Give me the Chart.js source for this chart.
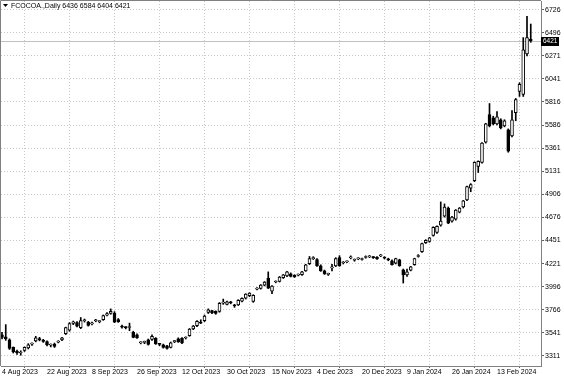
<!DOCTYPE html>
<html>
<head>
<meta charset="utf-8">
<script src="https://cdn.jsdelivr.net/npm/chart.js@4.4.1/dist/chart.umd.min.js"></script>
<style>
  html, body { margin: 0; padding: 0; background: #fff; }
  #wrap { position: relative; width: 564px; height: 376px; }
</style>
</head>
<body>
<div id="wrap"><canvas id="chart" width="564" height="376"></canvas></div>
<script>
// Header line of the chart window
const symbolTitle = 'FCOCOA.,Daily 6436 6584 6404 6421';

// Date labels on the time axis and the bar they sit on
const dateLabels = ['4 Aug 2023', '22 Aug 2023', '8 Sep 2023', '26 Sep 2023', '12 Oct 2023', '30 Oct 2023',
  '15 Nov 2023', '4 Dec 2023', '20 Dec 2023', '9 Jan 2024', '26 Jan 2024', '13 Feb 2024'];
const dateLabelBars = [0, 12, 24, 36, 48, 60, 72, 84, 96, 108, 120, 132];

// Price scale labels (bottom to top)
const priceLabels = ['3311', '3541', '3766', '3996', '4221', '4451', '4676', '4906',
  '5131', '5361', '5586', '5816', '6041', '6271', '6496', '6726'];

// Daily OHLC, one value per bar
const opens = [
  3520, 3500, 3470, 3395, 3360, 3340, 3365, 3390, 3428, 3460,
  3482, 3465, 3452, 3418, 3428, 3448, 3470, 3530, 3565, 3632,
  3640, 3590, 3658, 3645, 3628, 3658, 3650, 3670, 3712, 3730,
  3735, 3670, 3602, 3592, 3592, 3545, 3520, 3440, 3445, 3470,
  3475, 3485, 3426, 3420, 3410, 3395, 3452, 3480, 3485, 3488,
  3510, 3578, 3610, 3640, 3660, 3740, 3758, 3750, 3750, 3832,
  3820, 3838, 3808, 3815, 3852, 3880, 3905, 3850, 3970, 3978,
  4010, 4080, 3950, 4040, 4045, 4082, 4100, 4122, 4105, 4108,
  4112, 4150, 4220, 4270, 4262, 4200, 4150, 4115, 4180, 4200,
  4282, 4228, 4238, 4278, 4255, 4268, 4262, 4282, 4288, 4282,
  4285, 4298, 4278, 4268, 4250, 4225, 4258, 4160, 4110, 4158,
  4210, 4292, 4340, 4428, 4440, 4500, 4530, 4600, 4690, 4770,
  4640, 4660, 4730, 4780, 4850, 4965, 5040, 5180, 5220, 5420,
  5690, 5660, 5600, 5640, 5580, 5540, 5480, 5710, 5920, 5890,
  6290, 6436
];
const highs = [
  3545, 3620, 3480, 3400, 3370, 3362, 3400, 3432, 3440, 3505,
  3495, 3475, 3460, 3430, 3438, 3462, 3495, 3595, 3640, 3655,
  3650, 3690, 3675, 3652, 3645, 3672, 3660, 3715, 3738, 3775,
  3748, 3680, 3615, 3600, 3635, 3555, 3530, 3452, 3458, 3478,
  3520, 3492, 3436, 3428, 3415, 3448, 3465, 3490, 3492, 3500,
  3582, 3612, 3660, 3668, 3715, 3775, 3762, 3756, 3838, 3872,
  3852, 3850, 3820, 3866, 3885, 3925, 3935, 3915, 3985, 4015,
  4045, 4140, 4005, 4052, 4095, 4115, 4145, 4130, 4112, 4120,
  4145, 4215, 4292, 4290, 4270, 4210, 4158, 4128, 4215, 4280,
  4300, 4242, 4250, 4298, 4268, 4280, 4275, 4298, 4302, 4292,
  4292, 4312, 4290, 4275, 4258, 4275, 4265, 4168, 4168, 4195,
  4275, 4310, 4425, 4458, 4480, 4585, 4595, 4830, 4810, 4780,
  4688, 4755, 4775, 4845, 4985, 5010, 5225, 5235, 5415, 5605,
  5800, 5675, 5720, 5650, 5640, 5550, 5730, 5850, 6005, 6450,
  6660, 6584
];
const lows = [
  3480, 3465, 3375, 3340, 3325, 3318, 3355, 3380, 3415, 3450,
  3460, 3445, 3410, 3400, 3395, 3440, 3462, 3522, 3555, 3620,
  3598, 3580, 3645, 3605, 3618, 3648, 3638, 3662, 3705, 3722,
  3640, 3642, 3585, 3578, 3560, 3490, 3485, 3430, 3432, 3418,
  3465, 3425, 3412, 3388, 3378, 3390, 3442, 3445, 3432, 3478,
  3505, 3570, 3600, 3630, 3650, 3730, 3728, 3722, 3742, 3820,
  3815, 3825, 3790, 3808, 3845, 3872, 3895, 3840, 3962, 3970,
  4002, 3975, 3925, 4032, 4040, 4075, 4092, 4090, 4085, 4100,
  4105, 4145, 4212, 4262, 4195, 4145, 4115, 4105, 4150, 4192,
  4195, 4218, 4230, 4268, 4245, 4260, 4255, 4275, 4280, 4272,
  4262, 4290, 4268, 4250, 4205, 4218, 4195, 4030, 4095, 4150,
  4205, 4285, 4332, 4420, 4432, 4492, 4520, 4590, 4680, 4615,
  4630, 4650, 4722, 4770, 4842, 4930, 5030, 5120, 5212, 5410,
  5570, 5590, 5590, 5550, 5570, 5320, 5470, 5630, 5870, 5870,
  6270, 6404
];
const closes = [
  3495, 3480, 3385, 3350, 3340, 3345, 3395, 3420, 3432, 3490,
  3470, 3455, 3420, 3420, 3405, 3458, 3490, 3590, 3630, 3648,
  3605, 3660, 3665, 3612, 3638, 3662, 3652, 3710, 3730, 3752,
  3645, 3650, 3595, 3590, 3598, 3495, 3490, 3442, 3446, 3425,
  3505, 3430, 3425, 3395, 3385, 3440, 3456, 3450, 3440, 3492,
  3575, 3605, 3652, 3635, 3705, 3766, 3735, 3730, 3830, 3840,
  3845, 3835, 3805, 3860, 3880, 3920, 3930, 3910, 3978, 4010,
  4040, 3980, 4000, 4045, 4090, 4110, 4140, 4095, 4090, 4112,
  4140, 4210, 4270, 4280, 4200, 4150, 4120, 4118, 4190, 4270,
  4200, 4232, 4242, 4282, 4258, 4272, 4266, 4288, 4292, 4280,
  4268, 4302, 4275, 4258, 4212, 4270, 4200, 4110, 4140, 4190,
  4270, 4302, 4420, 4450, 4475, 4580, 4590, 4640, 4780, 4620,
  4680, 4750, 4770, 4840, 4980, 5000, 5220, 5230, 5410, 5600,
  5580, 5600, 5670, 5560, 5630, 5330, 5640, 5840, 5990, 6330,
  6450, 6421
];

const FONT = 'Liberation Sans';
const lastClose = closes[closes.length - 1];

// bodies as floating bars, wicks as thin floating bars
const bodyData = opens.map((o, i) => ({ x: i, y: [Math.min(o, closes[i]), Math.max(o, closes[i])] }));
const wickData = lows.map((l, i) => ({ x: i, y: [l, highs[i]] }));
const bodyFill = opens.map((o, i) => closes[i] >= o ? '#ffffff' : '#000000');

// price ticks spread evenly from the lowest to the highest label
const pLo = Number(priceLabels[0]);
const pHi = Number(priceLabels[priceLabels.length - 1]);
const pStep = (pHi - pLo) / (priceLabels.length - 1);

// no extra room for labels hanging over the plot edges
function noEdgePad(s) {
  s.paddingTop = 0;
  s.paddingBottom = 0;
  s.paddingLeft = 0;
  s.paddingRight = 0;
}

// draws the frame, the last price line + tag and the header text
const terminalBits = {
  id: 'terminalBits',
  beforeDatasetsDraw(chart) {
    const { ctx, chartArea: a, scales: { y } } = chart;
    const py = Math.round(y.getPixelForValue(lastClose)) + 0.5;
    ctx.save();
    ctx.strokeStyle = '#c0c0c0';
    ctx.lineWidth = 1;
    ctx.beginPath();
    ctx.moveTo(a.left, py);
    ctx.lineTo(a.right, py);
    ctx.stroke();
    ctx.restore();
  },
  afterDraw(chart) {
    const { ctx, chartArea: a, scales: { y } } = chart;
    ctx.save();
    // frame
    ctx.strokeStyle = '#808080';
    ctx.lineWidth = 1;
    ctx.beginPath();
    ctx.moveTo(a.left - 0.5, a.bottom);
    ctx.lineTo(a.left - 0.5, a.top - 0.5);
    ctx.lineTo(a.right, a.top - 0.5);
    ctx.stroke();

    // last price tag
    const py = Math.round(y.getPixelForValue(lastClose));
    ctx.fillStyle = '#000';
    ctx.fillRect(a.right, py - 4, 18, 9);
    ctx.fillStyle = '#fff';
    ctx.font = '6.5px "' + FONT + '"';
    ctx.textBaseline = 'middle';
    ctx.textAlign = 'left';
    ctx.fillText(String(lastClose), a.right + 2, py + 0.5);

    // header
    ctx.fillStyle = '#000';
    ctx.beginPath();
    ctx.moveTo(a.left + 2, a.top + 3);
    ctx.lineTo(a.left + 7, a.top + 3);
    ctx.lineTo(a.left + 4.5, a.top + 6);
    ctx.closePath();
    ctx.fill();
    ctx.font = '7px "' + FONT + '"';
    ctx.fillText(symbolTitle, a.left + 10, a.top + 5);
    ctx.restore();
  }
};

const ctx = document.getElementById('chart').getContext('2d');
new Chart(ctx, {
  type: 'bar',
  data: {
    datasets: [
      {
        data: wickData,
        backgroundColor: '#000',
        borderWidth: 0,
        barThickness: 1,
        grouped: false,
        order: 2
      },
      {
        data: bodyData,
        backgroundColor: bodyFill,
        borderColor: '#000',
        borderWidth: 1,
        borderSkipped: false,
        barThickness: 3,
        minBarLength: 1,
        grouped: false,
        order: 1
      }
    ]
  },
  options: {
    responsive: false,
    animation: false,
    layout: { padding: { left: 1, top: 1, right: 0, bottom: 0 } },
    plugins: { legend: { display: false }, tooltip: { enabled: false } },
    scales: {
      x: {
        type: 'linear',
        offset: false,
        min: -1 / 3.75,
        max: 144 - 1 / 3.75,
        afterBuildTicks: s => { s.ticks = dateLabelBars.map(v => ({ value: v })); },
        afterFit: s => { s.height = 10; noEdgePad(s); },
        ticks: {
          autoSkip: false,
          maxRotation: 0,
          align: 'start',
          padding: 0,
          color: '#000',
          font: { family: FONT, size: 7 },
          callback: v => dateLabels[dateLabelBars.indexOf(v)]
        },
        grid: { color: '#c8c8c8', tickLength: 2, tickColor: '#606060' },
        border: { display: true, color: '#808080', width: 1, dash: [1, 2] }
      },
      y: {
        position: 'right',
        min: 3212,
        max: 6811,
        afterBuildTicks: s => { s.ticks = priceLabels.map((_, k) => ({ value: pLo + k * pStep })); },
        afterFit: s => { s.width = 23; noEdgePad(s); },
        ticks: {
          padding: 1,
          color: '#000',
          font: { family: FONT, size: 7 },
          callback: (v, k) => priceLabels[k]
        },
        grid: { color: '#c8c8c8', tickLength: 3, tickColor: '#606060' },
        border: { display: true, color: '#808080', width: 1, dash: [1, 2] }
      }
    }
  },
  plugins: [terminalBits]
});
</script>
</body>
</html>
